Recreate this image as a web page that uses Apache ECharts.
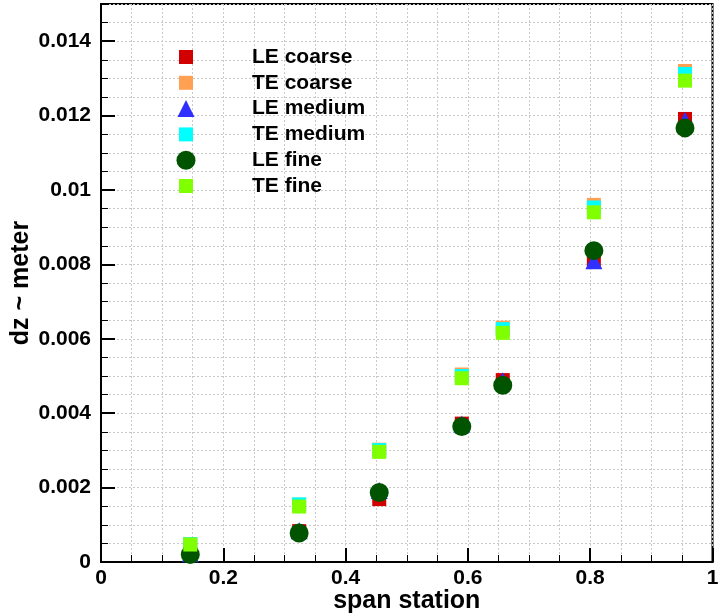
<!DOCTYPE html>
<html>
<head>
<meta charset="utf-8">
<script src="https://cdn.jsdelivr.net/npm/echarts@6/dist/echarts.min.js"></script>
<style>
html,body{margin:0;padding:0;background:#fff;}
#chart{width:721px;height:615px;}
</style>
</head>
<body>
<div id="chart"></div>
<script>
// span station of each measured section
var spanStation = [0.146, 0.324, 0.455, 0.59, 0.657, 0.806, 0.955];
var leCoarse  = [0.00021, 0.00083, 0.00169, 0.00372, 0.00489, 0.00813, 0.01191];
var teCoarse  = [0.00048, 0.00154, 0.00302, 0.00504, 0.0063, 0.0096, 0.0132];
var leMedium  = [0.00022, 0.00084, 0.00192, 0.00371, 0.00487, 0.0081, 0.01187];
var teMedium  = [0.00048, 0.00155, 0.00301, 0.0050, 0.00626, 0.00953, 0.01312];
var leFine    = [0.0002, 0.00078, 0.00187, 0.00364, 0.00475, 0.00837, 0.01167];
var teFine    = [0.00047, 0.00149, 0.00296, 0.00494, 0.00616, 0.0094, 0.01294];
var seriesNames = ['LE coarse', 'TE coarse', 'LE medium', 'TE medium', 'LE fine', 'TE fine'];
var xTicks = [0, 0.2, 0.4, 0.6, 0.8, 1];
var yTicks = [0, 0.002, 0.004, 0.006, 0.008, 0.01, 0.012, 0.014];

var seriesValues = [leCoarse, teCoarse, leMedium, teMedium, leFine, teFine];
var styles = [
  {symbol: 'rect', size: 14, color: '#d20000'},
  {symbol: 'rect', size: 14, color: '#ffa052'},
  {symbol: 'triangle', size: 17, color: '#2f2fff'},
  {symbol: 'rect', size: 14, color: '#00ffff'},
  {symbol: 'circle', size: 19, color: '#005400'},
  {symbol: 'rect', size: 14, color: '#80ff00'}
];
var FONT = '"Liberation Sans", Arial, Helvetica, sans-serif';

function pairs(vals) {
  return spanStation.map(function (x, i) { return [x, vals[i]]; });
}

var series = seriesNames.map(function (name, i) {
  return {
    name: name,
    type: 'scatter',
    xAxisIndex: 0,
    yAxisIndex: 0,
    symbol: styles[i].symbol,
    symbolSize: styles[i].size,
    itemStyle: {color: styles[i].color, opacity: 1},
    data: pairs(seriesValues[i]),
    z: 2 + i
  };
});

var rowTop0 = 57, rowStep = 25.8, iconCenterX = 186, textLeft = 252;
var legends = seriesNames.map(function (name, i) {
  var s = styles[i].size;
  var h = Math.max(s, 21);
  return {
    data: [{name: name, icon: styles[i].symbol}],
    orient: 'vertical',
    left: iconCenterX - s / 2,
    top: rowTop0 + i * rowStep - h / 2,
    padding: 0,
    itemWidth: s,
    itemHeight: s,
    itemGap: 0,
    selectedMode: false,
    textStyle: {
      fontFamily: FONT, fontWeight: 'bold', fontSize: 21, color: '#000',
      lineHeight: 21,
      padding: [0, 0, 0, textLeft - (iconCenterX - s / 2 + s + 5)]
    }
  };
});

var grid = {left: 101, right: 8.5, top: 4, bottom: 53, show: true,
  borderColor: '#000', borderWidth: 2, backgroundColor: 'transparent',
  containLabel: false, outerBoundsMode: 'none'};

var dotted = {show: true, lineStyle: {color: '#c9c9c9', type: [2, 2], width: 1}};

var option = {
  animation: false,
  backgroundColor: '#fff',
  grid: grid,
  legend: legends,
  xAxis: [{
    type: 'value', min: xTicks[0], max: xTicks[xTicks.length - 1], interval: 0.2,
    name: 'span station', nameLocation: 'middle', nameGap: 27, nameMoveOverlap: false,
    nameTextStyle: {fontFamily: FONT, fontWeight: 'bold', fontSize: 25, color: '#000'},
    axisLine: {show: true, onZero: false, lineStyle: {color: '#000', width: 2}},
    axisTick: {show: true, inside: true, length: 14, lineStyle: {color: '#000', width: 2}},
    minorTick: {show: true, splitNumber: 4, length: 7, lineStyle: {color: '#000', width: 1}},
    axisLabel: {margin: 6, fontFamily: FONT, fontWeight: 'bold', fontSize: 21, color: '#000',
      formatter: function (v) { return String(Math.round(v * 10) / 10); }},
    splitLine: dotted,
    minorSplitLine: dotted
  }],
  yAxis: [{
    type: 'value', min: 0, max: 0.015, interval: 0.002,
    name: 'dz ~ meter', nameLocation: 'middle', nameGap: 67, nameMoveOverlap: false,
    nameTextStyle: {fontFamily: FONT, fontWeight: 'bold', fontSize: 25, color: '#000'},
    axisLine: {show: true, onZero: false, lineStyle: {color: '#000', width: 2}},
    axisTick: {show: true, inside: true, length: 14, lineStyle: {color: '#000', width: 2}},
    axisLabel: {margin: 10, showMaxLabel: false, fontFamily: FONT, fontWeight: 'bold', fontSize: 21, color: '#000',
      formatter: function (v) {
        var r = Math.round(v * 1000) / 1000;
        return yTicks.indexOf(r) >= 0 ? String(r) : '';
      }},
    splitLine: {show: false}
  }, {
    type: 'value', min: 0, max: 0.015, interval: 0.0005, position: 'left',
    axisLine: {show: false},
    axisTick: {show: true, inside: true, length: 7, lineStyle: {color: '#000', width: 1}},
    axisLabel: {show: false},
    splitLine: dotted
  }],
  series: series
};

var chart = echarts.init(document.getElementById('chart'), null, {renderer: 'canvas'});
chart.setOption(option);
</script>
</body>
</html>
